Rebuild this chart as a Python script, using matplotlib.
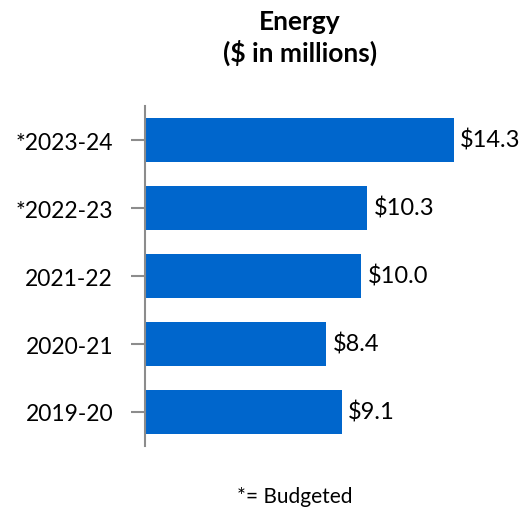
import matplotlib.pyplot as plt

plt.rcParams['font.family'] = ['Lato', 'DejaVu Sans']

years = ['2019-20', '2020-21', '2021-22', '*2022-23', '*2023-24']
amounts = [9.1, 8.4, 10.0, 10.3, 14.3]

fig = plt.figure(figsize=(5.25, 5.1), dpi=100)
ax = fig.add_axes([145 / 525, 1 - 447 / 510, 365 / 525, 340 / 510])

bars = ax.barh(range(len(years)), amounts, height=0.64, color='#0066CC')
for b, v in zip(bars, amounts):
    ax.text(b.get_width() + 0.3, b.get_y() + b.get_height() / 2, f'${v:.1f}',
            va='center', ha='left', fontsize=17)

ax.set_xlim(0, 16.9)
ax.set_ylim(-0.5, len(years) - 0.5)
ax.set_yticks(range(len(years)))
ax.set_yticklabels(years, fontsize=16.5)
ax.set_xticks([])
for s in ['top', 'right', 'bottom']:
    ax.spines[s].set_visible(False)
ax.spines['left'].set_color('#8c8c8c')
ax.spines['left'].set_linewidth(1.5)
ax.tick_params(axis='y', length=10, width=1.5, color='#8c8c8c', pad=13)

fig.text(300 / 525, 1 - 38 / 510, 'Energy\n($ in millions)', ha='center', va='center',
         fontsize=19, fontweight='bold', linespacing=1.3)
fig.text(295 / 525, 1 - 497 / 510, '*= Budgeted', ha='center', va='center', fontsize=15)

fig.savefig('out.png', dpi=100)
